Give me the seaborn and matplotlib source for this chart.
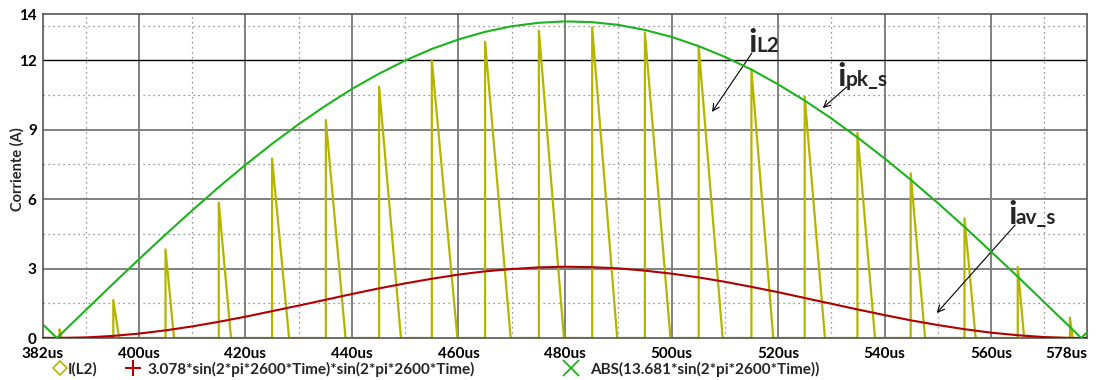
import numpy as np
import pandas as pd
import matplotlib.pyplot as plt
import seaborn as sns
from matplotlib.lines import Line2D

# tiempos (us) y valores
t_curve = [382, 384.6, 390, 395, 400, 405, 410, 415, 420, 425, 430, 435, 440, 445,
           450, 455, 460, 465, 470, 475, 480, 485, 490, 495, 500, 505, 510, 515,
           520, 525, 530, 535, 540, 545, 550, 555, 560, 565, 570, 575, 576.9, 578]
i_pk = [0.58, 0.0, 1.20, 2.31, 3.40, 4.47, 5.51, 6.52, 7.48, 8.39, 9.24, 10.03,
        10.76, 11.41, 11.99, 12.49, 12.90, 13.23, 13.47, 13.62, 13.68, 13.65,
        13.53, 13.31, 13.01, 12.62, 12.15, 11.60, 10.96, 10.26, 9.49, 8.65,
        7.76, 6.82, 5.83, 4.80, 3.73, 2.65, 1.54, 0.43, 0.0, 0.24]
i_av = [0.006, 0.0, 0.024, 0.088, 0.19, 0.33, 0.50, 0.70, 0.92, 1.16, 1.40, 1.65,
        1.90, 2.14, 2.36, 2.56, 2.74, 2.88, 2.98, 3.05, 3.08, 3.06,
        3.01, 2.91, 2.78, 2.62, 2.43, 2.21, 1.98, 1.73, 1.48, 1.23,
        0.99, 0.76, 0.56, 0.38, 0.23, 0.12, 0.04, 0.003, 0.0, 0.001]

# pulsos de I(L2): inicio, pico, fin
pulse_start = [385.1, 395.2, 405.0, 415.0, 425.0, 435.1, 445.1, 455.0, 465.0, 475.1,
               485.1, 495.0, 505.1, 515.0, 525.0, 534.9, 544.9, 555.0, 565.0, 574.8]
pulse_peak = [0.37, 1.64, 3.83, 5.85, 7.76, 9.42, 10.86, 12.01, 12.80, 13.28,
              13.42, 13.19, 12.59, 11.61, 10.43, 8.87, 7.12, 5.17, 3.08, 0.88]
pulse_end = [385.5, 396.3, 406.6, 417.3, 428.2, 438.8, 449.2, 459.8, 469.8, 479.8,
             489.8, 499.8, 509.6, 519.1, 528.8, 538.2, 547.6, 557.1, 566.2, 575.3]

x_ticks = [382, 400, 420, 440, 460, 480, 500, 520, 540, 560, 578]
y_ticks = [0, 3, 6, 9, 12, 14]

c_il2 = "#b5b500"
c_av = "#b00000"
c_pk = "#1db31d"

# armar la forma de onda de los pulsos
px, py = [382], [0]
for s, p, e in zip(pulse_start, pulse_peak, pulse_end):
    px += [s, s, e]
    py += [0, p, 0]
px.append(578)
py.append(0)
df_il2 = pd.DataFrame({"t": px, "i": py})
df_curves = pd.DataFrame({"t": t_curve, "pk": i_pk, "av": i_av})

sns.set_theme(style="white")
plt.rcParams['font.family'] = ['Lato', 'DejaVu Sans']
plt.rcParams['font.weight'] = 'bold'

fig = plt.figure(figsize=(11.01, 3.80), dpi=100)
ax = fig.add_axes([43 / 1101, 1 - 338 / 380, 1044 / 1101, 324 / 380])

# rejilla
for xv in range(390, 578, 20):
    ax.axvline(xv, color="#777777", lw=0.9, ls=(0, (1, 3)), zorder=0)
for xv in range(400, 578, 20):
    ax.axvline(xv, color="#808080", lw=1.4, zorder=0)
for yv in [1.5, 4.5, 7.5, 10.5, 13.5]:
    ax.axhline(yv, color="#777777", lw=0.9, ls=(0, (1, 3)), zorder=0)
for yv in [3, 6, 9]:
    ax.axhline(yv, color="#808080", lw=1.4, zorder=0)
ax.axhline(12, color="black", lw=1.0, zorder=0)

sns.lineplot(data=df_il2, x="t", y="i", ax=ax, color=c_il2, lw=1.6,
             estimator=None, sort=False, zorder=2)
sns.lineplot(data=df_curves, x="t", y="av", ax=ax, color=c_av, lw=1.5, zorder=3)
sns.lineplot(data=df_curves, x="t", y="pk", ax=ax, color=c_pk, lw=1.5, zorder=4)

ax.set_xlim(382, 578)
ax.set_ylim(0, 14)
ax.set_xticks(x_ticks)
ax.set_xticklabels([f"{v}us" for v in x_ticks])
ax.set_yticks(y_ticks)
ax.set_yticklabels([str(v) for v in y_ticks])
ax.tick_params(axis="both", labelsize=11, length=3, width=1, color="#555555",
               labelcolor="black")
ax.tick_params(axis="x", pad=3.5)
ax.tick_params(axis="y", pad=1.5)
for lab in ax.get_xticklabels() + ax.get_yticklabels():
    lab.set_fontweight("bold")
ax.get_xticklabels()[-1].set_horizontalalignment("right")
for sp in ax.spines.values():
    sp.set_color("#555555")
    sp.set_linewidth(1.2)
ax.set_xlabel("")
ax.set_ylabel("Corriente (A)", fontsize=10.5, fontweight="bold")
ax.yaxis.set_label_coords(-0.018, 0.52)

# etiquetas con flechas
labels = [("i", "L2", 514.5, 12.36, (515.1, 12.32), (507.6, 9.77)),
          ("i", "pk_s", 531.2, 10.89, (532.9, 10.85), (528.4, 9.94)),
          ("i", "av_s", 563.2, 4.93, (564.5, 4.88), (549.8, 1.08))]
for big, sub, lx, ly, a0, a1 in labels:
    ax.text(lx, ly, big, fontsize=24, fontweight="bold", ha="left", va="baseline")
    ax.text(lx + 1.45, ly, sub, fontsize=15, fontweight="bold", ha="left", va="baseline")
    ax.annotate("", xy=a1, xytext=a0,
                arrowprops=dict(arrowstyle="->", color="black", lw=0.8,
                                shrinkA=0, shrinkB=0))

# leyenda
fs = 11
fpx = fs * 100 / 72
entries = [(Line2D([], [], ls="none", marker="D", ms=7, mfc="none", mec=c_il2, mew=1.2),
            "I(L2)", 60, 67),
           (Line2D([], [], ls="none", marker="+", ms=11, mec=c_av, mew=1.5),
            "3.078*sin(2*pi*2600*Time)*sin(2*pi*2600*Time)", 133, 147),
           (Line2D([], [], ls="none", marker="x", ms=11, mec=c_pk, mew=1.3),
            "ABS(13.681*sin(2*pi*2600*Time))", 571, 590)]
for h, txt, mx, tx in entries:
    pad = max(tx - mx - fpx / 2, 0) / fpx
    fig.legend([h], [txt], loc="center left",
               bbox_to_anchor=((mx - fpx / 2) / 1101, 1 - 369 / 380),
               frameon=False, borderpad=0, borderaxespad=0,
               handlelength=1.0, handletextpad=pad,
               prop={"size": fs, "weight": "bold"})

fig.savefig("out.png", dpi=100)
